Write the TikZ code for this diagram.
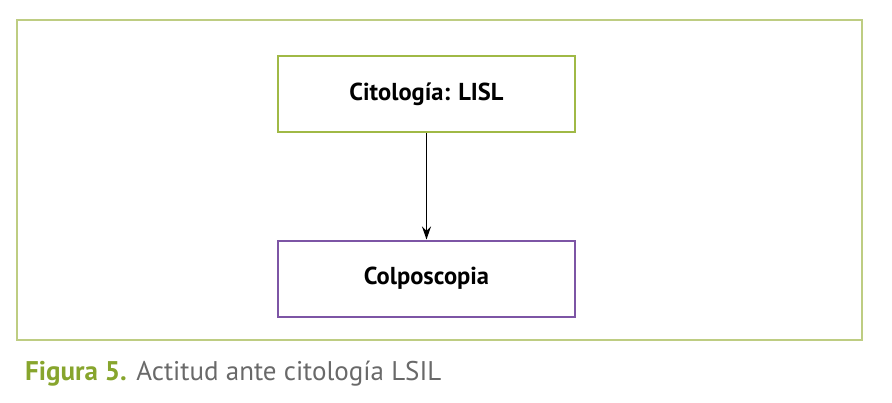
\documentclass[tikz,border=0pt]{standalone}
\usepackage{fontspec}
\setmainfont{PT Sans}
\usetikzlibrary{arrows.meta}
\definecolor{olive}{RGB}{160,185,70}
\definecolor{frameolive}{RGB}{190,205,130}
\definecolor{capolive}{RGB}{135,165,45}
\definecolor{purp}{RGB}{125,85,165}
\definecolor{captext}{RGB}{105,105,105}
\tikzset{
  flowbox/.style={draw, line width=2pt, minimum width=297pt, minimum height=76pt, inner sep=0pt, font=\fontsize{24.5}{29}\selectfont\bfseries},
  conn/.style={-{Stealth[length=13pt,width=9pt]}, line width=1.4pt, black}
}
\begin{document}
\begin{tikzpicture}[x=1pt,y=-1pt]
\useasboundingbox (0,0) rectangle (892,402);
\node[draw=frameolive, line width=1.5pt, minimum width=845pt, minimum height=320pt, inner sep=0pt] (frame) at (439.5,180) {};
\node[flowbox, draw=olive] (cito) at (426.5,94) {Citología: LISL};
\node[flowbox, draw=purp] (colpo) at (426.5,278.5) {Colposcopia};
\draw[conn] (cito.south) -- (colpo.north);
\node[anchor=west, inner sep=0pt, font=\fontsize{27}{32}\selectfont] (cap) at (25,374) {\textcolor{capolive}{\bfseries Figura 5.} \textcolor{captext}{Actitud ante citología LSIL}};
\end{tikzpicture}
\end{document}
